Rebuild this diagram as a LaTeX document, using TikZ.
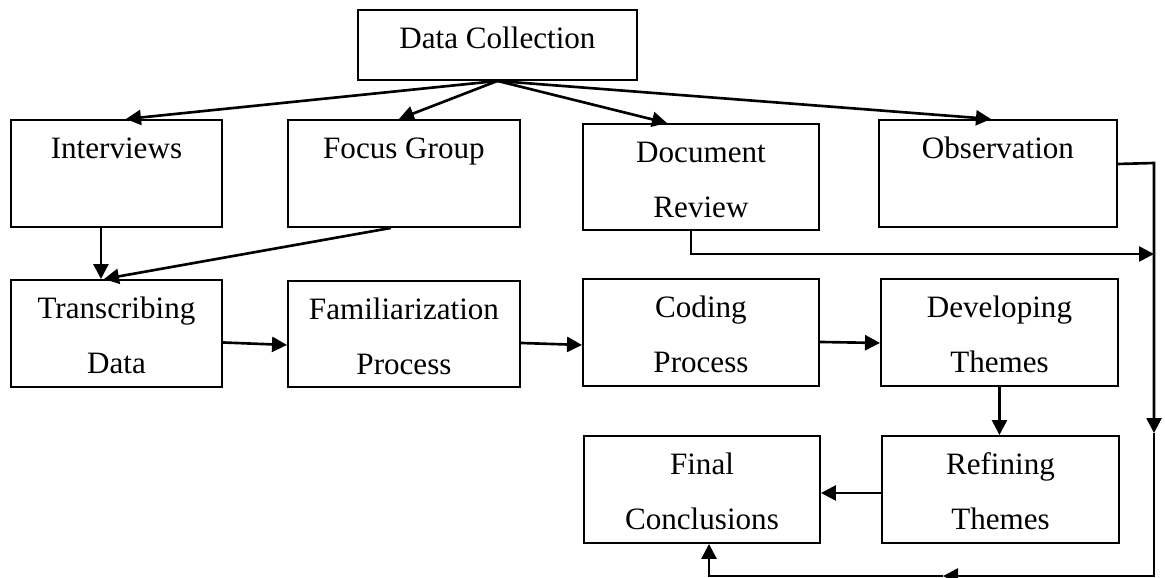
\documentclass[tikz,border=0pt]{standalone}
\usepackage{fontspec}
\setmainfont{Liberation Serif}
\usetikzlibrary{arrows.meta}
\newcommand{\stagetext}[3]{\parbox[t][#2][t]{#1}{\centering\rule{0pt}{0.78cm}#3}}
\tikzset{
  stage/.style={draw, line width=1.1pt, inner sep=0pt, anchor=north west, font=\fontsize{17.7}{31.3}\selectfont},
  flow/.style={line width=1.5pt, -{Triangle[length=0.3cm, width=0.3cm]}},
}

\begin{document}
\begin{tikzpicture}
    \useasboundingbox (0,0) rectangle (23.3,-11.54);
    % Top box
    \node[stage] (dc) at (7.14,-0.18) {\stagetext{5.58cm}{1.40cm}{Data Collection}};
    % Collection methods
    \node[stage] (intv) at (0.20,-2.38) {\stagetext{4.22cm}{2.14cm}{Interviews}};
    \node[stage] (focus) at (5.74,-2.38) {\stagetext{4.64cm}{2.14cm}{Focus Group}};
    \node[stage] (docrev) at (11.64,-2.46) {\stagetext{4.72cm}{2.12cm}{Document\\Review}};
    \node[stage] (obs) at (17.56,-2.38) {\stagetext{4.76cm}{2.14cm}{Observation}};
    % Analysis steps
    \node[stage] (trans) at (0.20,-5.58) {\stagetext{4.22cm}{2.14cm}{Transcribing\\Data}};
    \node[stage] (famil) at (5.74,-5.60) {\stagetext{4.64cm}{2.12cm}{Familiarization\\Process}};
    \node[stage] (coding) at (11.64,-5.56) {\stagetext{4.72cm}{2.14cm}{Coding\\Process}};
    \node[stage] (devel) at (17.60,-5.56) {\stagetext{4.74cm}{2.14cm}{Developing\\Themes}};
    \node[stage] (refine) at (17.62,-8.70) {\stagetext{4.74cm}{2.14cm}{Refining\\Themes}};
    \node[stage] (final) at (11.66,-8.70) {\stagetext{4.72cm}{2.14cm}{Final\\Conclusions}};
    % Side route points
    \coordinate (railtop) at (23.08,-3.26);
    \coordinate (docjoin) at (23.08,-5.08);
    \coordinate (raildown) at (23.08,-8.66);
    \coordinate (railbot) at (23.08,-11.52);
    \coordinate (botmid) at (18.86,-11.52);
    \coordinate (botend) at (14.18,-11.52);
    % Fan out
    \draw[flow] (dc.south) -- ([xshift=0.19cm]intv.north);
    \draw[flow] (dc.south) -- ([xshift=-0.1cm]focus.north);
    \draw[flow] (dc.south) -- ([xshift=-0.68cm]docrev.north);
    \draw[flow] (dc.south) -- ([xshift=-0.14cm]obs.north);
    % Main flow
    \draw[flow] ([xshift=-0.31cm]intv.south) -- ([xshift=-0.31cm]trans.north);
    \draw[flow] ([xshift=-0.26cm]focus.south) -- ([xshift=-0.25cm]trans.north);
    \draw[flow] ([yshift=-0.18cm]trans.east) -- ([yshift=-0.22cm]famil.west);
    \draw[flow] ([yshift=-0.18cm]famil.east) -- ([yshift=-0.25cm]coding.west);
    \draw[flow] ([yshift=-0.19cm]coding.east) -- ([yshift=-0.21cm]devel.west);
    \draw[flow] (devel.south) -- (devel.south |- refine.north);
    \draw[flow] ([yshift=-0.07cm]refine.west) -- ([yshift=-0.07cm]final.east);
    % Side route
    \draw[flow] ([xshift=-0.2cm]docrev.south) |- (docjoin);
    \draw[flow] ([yshift=0.19cm]obs.east) -- (railtop) -- (raildown);
    \draw[flow] (raildown) -- (railbot) -- (botmid);
    \draw[flow] (botmid) -- (botend) -- (botend |- final.south);
\end{tikzpicture}
\end{document}
